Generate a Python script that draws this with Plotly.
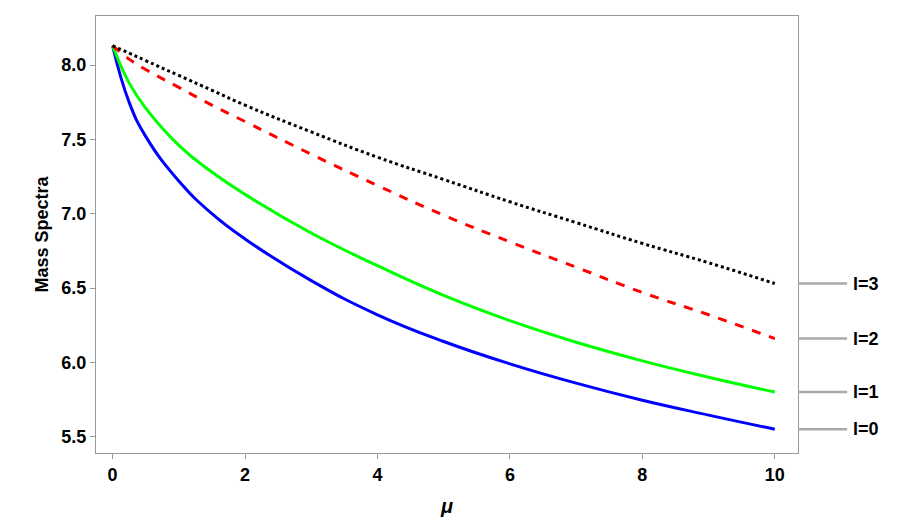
import plotly.graph_objects as go

mu = [0, 0.25, 0.5, 1, 1.5, 2, 3, 4, 5, 6, 7, 8, 9, 10]
l0 = [8.13, 7.75, 7.52, 7.22, 7.00, 6.83, 6.55, 6.32, 6.14, 5.99, 5.86, 5.745, 5.645, 5.55]
l1 = [8.13, 7.88, 7.71, 7.46, 7.28, 7.13, 6.87, 6.65, 6.45, 6.28, 6.135, 6.01, 5.90, 5.80]
l2 = [8.13, 8.04, 7.97, 7.85, 7.73, 7.62, 7.40, 7.19, 6.99, 6.81, 6.64, 6.47, 6.32, 6.16]
l3 = [8.13, 8.08, 8.03, 7.93, 7.83, 7.73, 7.55, 7.38, 7.23, 7.08, 6.94, 6.80, 6.67, 6.53]
labels = ["l=0", "l=1", "l=2", "l=3"]

series = [(l0, "#0000ff", "solid"), (l1, "#00ff00", "solid"),
          (l2, "#ff0000", "dash"), (l3, "#000000", "dot")]
fig = go.Figure()
for ys, c, d in series:
    fig.add_trace(go.Scatter(x=mu, y=ys, mode="lines",
                             line=dict(color=c, width=3, dash=d, shape="spline", smoothing=1.3), showlegend=False))

for ys, lab in zip([l0, l1, l2, l3], labels):
    fig.add_shape(type="line", xref="paper", yref="y", x0=1.0, x1=1.07, y0=ys[-1], y1=ys[-1],
                  line=dict(color="#aaaaaa", width=2.5))
    fig.add_annotation(xref="paper", yref="y", x=1.075, y=ys[-1], text="<b>%s</b>" % lab, showarrow=False,
                       xanchor="left", font=dict(size=18, color="black"))

ax = dict(showgrid=False, zeroline=False, showline=True, linecolor="#999999", mirror=True, ticks="outside",
          tickcolor="#999999", automargin=False, tickfont=dict(size=18, color="black", family="Liberation Sans"))
fig.update_layout(width=913, height=530, plot_bgcolor="white", paper_bgcolor="white",
                  margin=dict(l=88, r=123, t=8, b=85),
                  font=dict(family="Liberation Sans"),
                  xaxis=dict(range=[-0.25, 10.35], dtick=2, tickformat="d",
                             title=dict(text="<b><i>μ</i></b>", font=dict(size=20, color="black")), **ax),
                  yaxis=dict(range=[5.39, 8.33], dtick=0.5, tickformat=".1f",
                             title=dict(text="<b>Mass Spectra</b>", font=dict(size=18, color="black"), standoff=8), **ax))
fig.update_xaxes(tickprefix="<b>", ticksuffix="</b>")
fig.update_yaxes(tickprefix="<b>", ticksuffix="</b>")
fig.write_html("out.html")
